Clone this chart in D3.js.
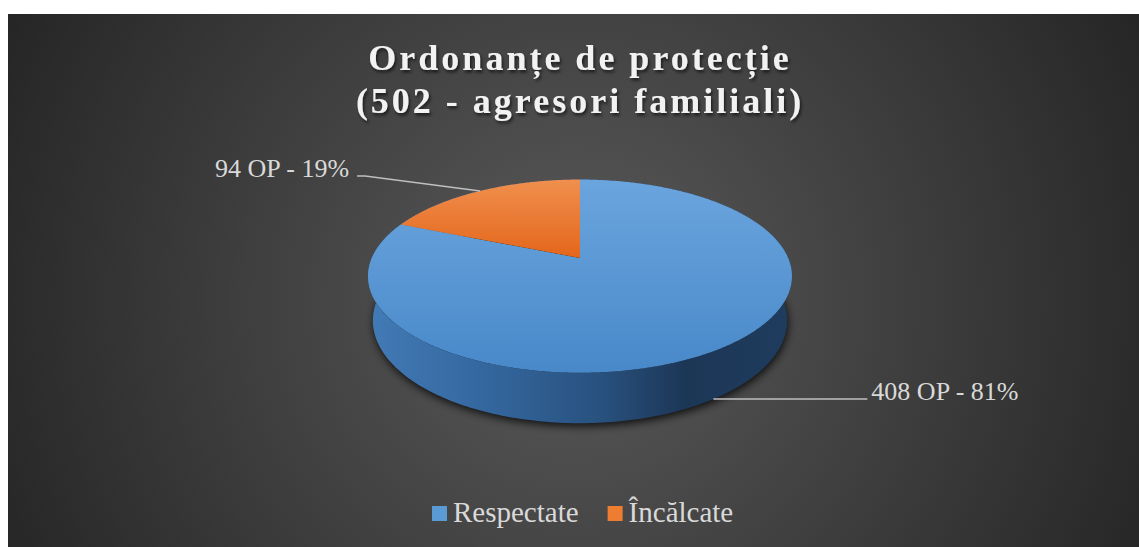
<!DOCTYPE html>
<html><head><meta charset="utf-8">
<script src="https://cdn.jsdelivr.net/npm/d3@7"></script>
<style>html,body{margin:0;padding:0;background:#fff;}svg{display:block;}</style>
</head><body>
<svg id="chart" width="1139" height="547"></svg>
<script>
// ---- data ----
const categories = ["Respectate", "Încălcate"];
const values = [408, 94];
const sliceLabels = ["408 OP - 81%", "94 OP - 19%"];
const titleLines = ["Ordonanțe de protecție", "(502 - agresori familiali)"];

// ---- style / layout ----
const W = 1139, H = 547;
const FONT = "'Liberation Serif','Times New Roman',serif";
const topColors = [["#6ba5de", "#4888c9"], ["#f0904f", "#e4661b"]];
const legendColors = ["#5b9bd5", "#ed7d31"];
const cx = 580, cy = 258;
const tilt = 26.6 * Math.PI / 180, cosT = Math.cos(tilt), sinT = Math.sin(tilt);
const D = 4.76, F = 991, depthH = 0.24;

const svg = d3.select("#chart");
const defs = svg.append("defs");

// background
const bg = defs.append("radialGradient").attr("id", "bg")
  .attr("gradientUnits", "userSpaceOnUse").attr("cx", 575).attr("cy", 300).attr("r", 640);
bg.append("stop").attr("offset", 0).attr("stop-color", "#5a5a5a");
bg.append("stop").attr("offset", 1).attr("stop-color", "#252525");
svg.append("rect").attr("x", 8).attr("y", 14).attr("width", W - 8).attr("height", H - 14).attr("fill", "url(#bg)");

// gradients
topColors.forEach((c, i) => {
  const g = defs.append("linearGradient").attr("id", "top" + i)
    .attr("gradientUnits", "userSpaceOnUse").attr("x1", 0).attr("x2", 0)
    .attr("y1", 178).attr("y2", i === 0 ? 375 : 258);
  g.append("stop").attr("offset", 0).attr("stop-color", c[0]);
  g.append("stop").attr("offset", 1).attr("stop-color", c[1]);
});
const sideG = defs.append("linearGradient").attr("id", "side")
  .attr("gradientUnits", "userSpaceOnUse").attr("x1", 368).attr("x2", 792).attr("y1", 0).attr("y2", 0);
[[0, "#427bb6"], [0.3, "#33659c"], [0.55, "#28517e"], [0.75, "#1c3656"], [1, "#1f3c5e"]]
  .forEach(s => sideG.append("stop").attr("offset", s[0]).attr("stop-color", s[1]));

const blur = defs.append("filter").attr("id", "shadow").attr("x", "-20%").attr("y", "-20%").attr("width", "140%").attr("height", "140%");
blur.append("feGaussianBlur").attr("stdDeviation", 4);
const tsh = defs.append("filter").attr("id", "tshadow").attr("x", "-10%").attr("y", "-30%").attr("width", "120%").attr("height", "160%");
tsh.append("feDropShadow").attr("dx", 1.5).attr("dy", 2.5).attr("stdDeviation", 1.5).attr("flood-color", "#000").attr("flood-opacity", 0.6);

// projection of a point on the unit cylinder (angle clockwise from 12 o'clock, Y height)
function project(theta, Y, r = 1) {
  const X = r * Math.sin(theta), Z = -r * Math.cos(theta);
  const depth = Z * cosT + Y * sinT;
  const v = Y * cosT - Z * sinT;
  const dist = D - depth;
  return [cx + F * X / dist, cy - F * v / dist];
}

const pie = d3.pie().sort(null).value(d => d)(values);

function arcPoints(a0, a1, Y) {
  const n = Math.max(2, Math.ceil(Math.abs(a1 - a0) / (Math.PI / 360)));
  return d3.range(n + 1).map(i => project(a0 + (a1 - a0) * i / n, Y));
}
const line = d3.line();

// shadow under the pie
svg.append("path")
  .attr("d", line(arcPoints(0, 2 * Math.PI, -depthH).map(p => [p[0] + 1, p[1] + 3])) + "Z")
  .attr("fill", "#000").attr("opacity", 0.8).attr("filter", "url(#shadow)");

// side walls: union of small quads in one path
let sideD = "";
pie.forEach(s => {
  const n = Math.ceil((s.endAngle - s.startAngle) / (Math.PI / 180));
  for (let i = 0; i < n; i++) {
    const a0 = s.startAngle + (s.endAngle - s.startAngle) * i / n;
    const a1 = s.startAngle + (s.endAngle - s.startAngle) * (i + 1) / n;
    const pts = [project(a0, 0), project(a1, 0), project(a1, -depthH), project(a0, -depthH)];
    sideD += line(pts) + "Z";
  }
});
svg.append("path").attr("d", sideD).attr("fill", "url(#side)");

// top faces
svg.selectAll("path.top").data(pie).join("path").attr("class", "top")
  .attr("d", s => line([[cx, cy], ...arcPoints(s.startAngle, s.endAngle, 0)]) + "Z")
  .attr("fill", (s, i) => `url(#top${i})`);

// leader lines and labels
const lblG = svg.append("g").attr("font-family", FONT).attr("font-size", 26).attr("fill", "#d9d9d9");
// Respectate: anchor at the bottom rim, label to the right
{
  const s = pie[0], mid = (s.startAngle + s.endAngle) / 2;
  const p = project(mid, -depthH);
  svg.append("path").attr("d", line([p, [p[0] + 154, p[1]]]))
    .attr("stroke", "#bfbfbf").attr("stroke-width", 1.5).attr("fill", "none");
  lblG.append("text").attr("x", p[0] + 158).attr("y", p[1] + 1)
    .text(sliceLabels[0]);
}
// Încălcate: anchor at the top rim, label to the upper-left
{
  const s = pie[1], mid = (s.startAngle + s.endAngle) / 2;
  const p = project(mid, 0);
  const knee = [p[0] - 115, p[1] - 15];
  svg.append("path").attr("d", line([p, knee, [knee[0] - 8, knee[1]]]))
    .attr("stroke", "#bfbfbf").attr("stroke-width", 1.5).attr("fill", "none");
  lblG.append("text").attr("x", knee[0] - 16).attr("y", knee[1] + 1).attr("text-anchor", "end")
    .text(sliceLabels[1]);
}

// title
const title = svg.append("text").attr("font-family", FONT).attr("font-weight", "bold")
  .attr("font-size", 36).attr("fill", "#f2f2f2").attr("letter-spacing", 3)
  .attr("text-anchor", "middle").attr("filter", "url(#tshadow)");
titleLines.forEach((t, i) => title.append("tspan").attr("x", 580).attr("y", 70 + i * 43).text(t));

// legend
const leg = svg.append("g").attr("font-family", FONT).attr("font-size", 29).attr("fill", "#d9d9d9");
let lx = 432;
categories.forEach((c, i) => {
  leg.append("rect").attr("x", lx).attr("y", 506).attr("width", 15).attr("height", 15).attr("fill", legendColors[i]);
  const t = leg.append("text").attr("x", lx + 21).attr("y", 522).text(c);
  lx += 21 + t.node().getComputedTextLength() + 29;
});
</script>
</body></html>
